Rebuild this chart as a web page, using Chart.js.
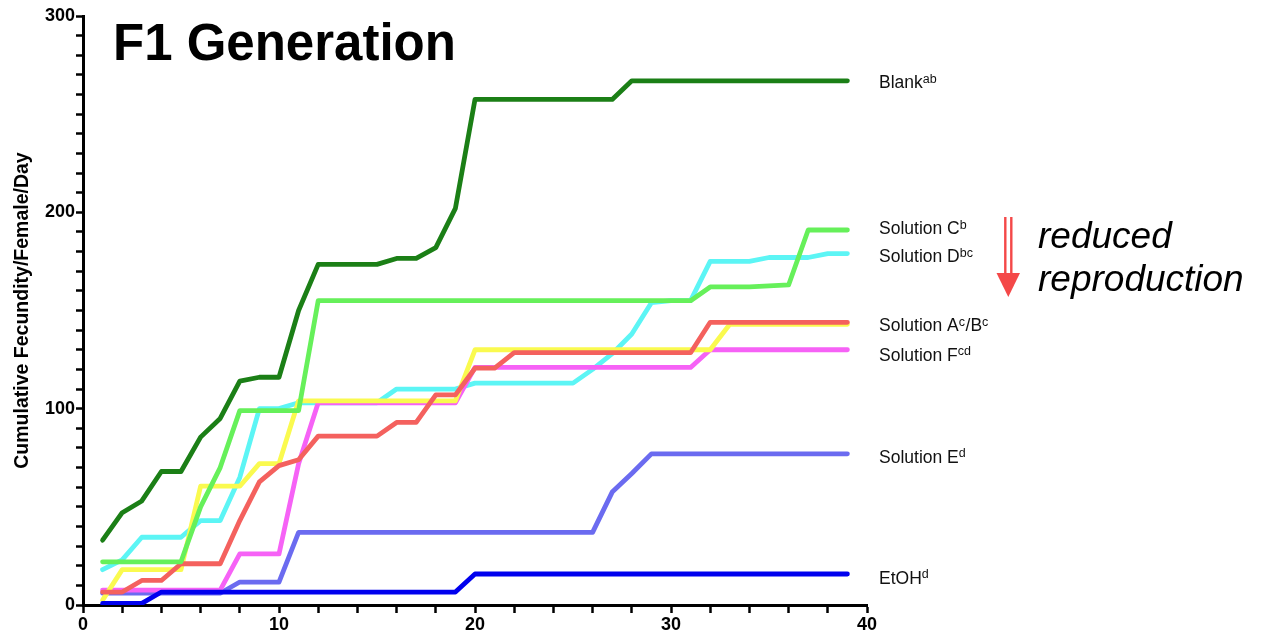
<!DOCTYPE html>
<html>
<head>
<meta charset="utf-8">
<title>F1 Generation</title>
<script src="https://cdn.jsdelivr.net/npm/chart.js@4/dist/chart.umd.min.js"></script>
<style>
  html, body { margin: 0; padding: 0; background: #fff; }
  canvas { display: block; }
</style>
</head>
<body>
<canvas id="chart" width="1264" height="637"></canvas>
<script>
// Day of observation
const days = [1,2,3,4,5,6,7,8,9,10,11,12,13,14,15,16,17,18,19,20,
              21,22,23,24,25,26,27,28,29,30,31,32,33,34,35,36,37,38,39];

// Cumulative fecundity per female per day, one value per day
const blank = [33,47,53,68,68,85.5,95,114,116,116,150,173.5,173.5,173.5,173.5,176.5,176.5,182,202,
               257.5,257.5,257.5,257.5,257.5,257.5,257.5,257.5,267,267,267,267,267,267,267,267,267,267,267,267];
const solutionC = [22,22,22,22,22,50,70,99,99,99,99,155,155,155,155,155,155,155,155,155,
                   155,155,155,155,155,155,155,155,155,155,155,162,162,162,162.5,163,191,191,191];
const solutionD = [18,23,34.5,34.5,34.5,43,43,65,100,100,103,103,103,103,103,110,110,110,110,113,
                   113,113,113,113,113,120,128,138,154,155,155,175,175,175,177,177,177,179,179];
const solutionA = [6.6,6.6,12.5,12.5,21,21,21,43,62.7,71,74,86,86,86,86,93,93,107,107,120.6,
                   120.6,128.5,128.5,128.5,128.5,128.5,128.5,128.5,128.5,128.5,128.5,144,144,144,144,144,144,144,144];
const solutionB = [2.5,18,18,18,18,60.5,60.5,60.5,72,72,104,104,104,104,104,104,104,104,104,130,
                   130,130,130,130,130,130,130,130,130,130,130,130,143,143,143,143,143,143,143];
const solutionF = [7.6,7.6,7.6,7.6,7.6,7.6,7.6,26,26,26,72,103,103,103,103,103,103,103,103,121,
                   121,121,121,121,121,121,121,121,121,121,121,130,130,130,130,130,130,130,130];
const solutionE = [6,6,6,6,6,6,6,11.7,11.7,11.7,37,37,37,37,37,37,37,37,37,37,
                   37,37,37,37,37,37,57.5,67,77,77,77,77,77,77,77,77,77,77,77];
const etoh = [0.8,0.8,0.8,6.6,6.6,6.6,6.6,6.6,6.6,6.6,6.6,6.6,6.6,6.6,6.6,6.6,6.6,6.6,6.6,15.8,
              15.8,15.8,15.8,15.8,15.8,15.8,15.8,15.8,15.8,15.8,15.8,15.8,15.8,15.8,15.8,15.8,15.8,15.8,15.8];

// Axis ticks
const yTickLabels = [0, 100, 200, 300];
const xTickLabels = [0, 10, 20, 30, 40];

const FONT = '"Liberation Sans", Arial, Helvetica, sans-serif';

const pts = arr => days.map((d, i) => ({ x: d, y: arr[i] }));

function series(label, arr, color, order) {
  return {
    label, data: pts(arr), borderColor: color, backgroundColor: color,
    borderWidth: 4.8, pointRadius: 0, pointHoverRadius: 0, tension: 0,
    borderCapStyle: 'round', borderJoinStyle: 'round', fill: false, order
  };
}

// End-of-line labels: text segments [text, superscript?], the series they sit beside, a small vertical nudge
const endLabels = [
  { parts: [['Blank', false], ['ab', true]], series: blank, nudge: 1.5 },
  { parts: [['Solution C', false], ['b', true]], series: solutionC, nudge: -2 },
  { parts: [['Solution D', false], ['bc', true]], series: solutionD, nudge: 2.5 },
  { parts: [['Solution A', false], ['c', true], ['/B', false], ['c', true]], series: solutionA, nudge: 3 },
  { parts: [['Solution F', false], ['cd', true]], series: solutionF, nudge: 5 },
  { parts: [['Solution E', false], ['d', true]], series: solutionE, nudge: 3 },
  { parts: [['EtOH', false], ['d', true]], series: etoh, nudge: 4 }
];

const annotations = {
  id: 'annotations',
  afterDraw(chart) {
    const ctx = chart.ctx;
    const y = chart.scales.y;
    ctx.save();

    // Heading
    ctx.fillStyle = '#000';
    ctx.font = 'bold 51px ' + FONT;
    ctx.textAlign = 'left';
    ctx.textBaseline = 'alphabetic';
    ctx.fillText('F1 Generation', 113, 60);

    // Line-end labels
    const labelX = chart.chartArea.right + 12;
    endLabels.forEach(l => {
      const last = l.series[l.series.length - 1];
      const base = y.getPixelForValue(last) + l.nudge + 6;
      let x = labelX;
      l.parts.forEach(([text, sup]) => {
        ctx.font = (sup ? '12.5px ' : '17.5px ') + FONT;
        ctx.fillStyle = '#111';
        ctx.fillText(text, x, sup ? base - 5.5 : base);
        x += ctx.measureText(text).width + (sup ? 0.5 : 0);
      });
    });

    // Arrow: double shaft and solid head
    ctx.strokeStyle = '#f44848';
    ctx.fillStyle = '#f44848';
    ctx.lineWidth = 2.4;
    ctx.beginPath();
    ctx.moveTo(1005.3, 217); ctx.lineTo(1005.3, 274);
    ctx.moveTo(1011.3, 217); ctx.lineTo(1011.3, 274);
    ctx.stroke();
    ctx.beginPath();
    ctx.moveTo(996.5, 273);
    ctx.lineTo(1020, 273);
    ctx.lineTo(1008.3, 297);
    ctx.closePath();
    ctx.fill();

    ctx.fillStyle = '#000';
    ctx.font = 'italic 37px ' + FONT;
    ctx.fillText('reduced', 1038, 248);
    ctx.fillText('reproduction', 1038, 291);

    ctx.restore();
  }
};

new Chart(document.getElementById('chart'), {
  type: 'line',
  data: {
    datasets: [
      series('EtOH', etoh, '#0000ee', 0),
      series('Blank', blank, '#1b7f16', 1),
      series('Solution C', solutionC, '#66f05a', 2),
      series('Solution A', solutionA, '#f4615e', 3),
      series('Solution B', solutionB, '#fafa4f', 4),
      series('Solution F', solutionF, '#f662f6', 5),
      series('Solution D', solutionD, '#5cf5f5', 6),
      series('Solution E', solutionE, '#6b6bf0', 7)
    ]
  },
  options: {
    responsive: false,
    animation: false,
    events: [],
    layout: { padding: { left: 0, right: 397, top: 16, bottom: 0 } },
    plugins: { legend: { display: false }, tooltip: { enabled: false }, title: { display: false } },
    scales: {
      x: {
        type: 'linear', min: 0, max: 40,
        afterFit: s => { s.height = 32; },
        border: { display: true, color: '#000', width: 3 },
        grid: { drawOnChartArea: false, drawTicks: true, tickLength: 8, tickWidth: 2.5, tickColor: '#000' },
        ticks: {
          stepSize: 2, autoSkip: false, maxRotation: 0, maxTicksLimit: 100, padding: 1,
          color: '#000', font: { family: FONT, size: 18, weight: 'bold' },
          callback: v => xTickLabels.includes(v) ? String(v) : ''
        }
      },
      y: {
        type: 'linear', min: 0, max: 300,
        afterFit: s => { s.width = 83; },
        border: { display: true, color: '#000', width: 3 },
        grid: { drawOnChartArea: false, drawTicks: true, tickLength: 7, tickWidth: 2.5, tickColor: '#000' },
        ticks: {
          stepSize: 10, autoSkip: false, maxTicksLimit: 100, padding: 1,
          color: '#000', font: { family: FONT, size: 18, weight: 'bold' },
          callback: v => yTickLabels.includes(v) ? String(v) : ''
        },
        title: {
          display: true, text: 'Cumulative Fecundity/Female/Day',
          color: '#000', font: { family: FONT, size: 19.5, weight: 'bold' },
          padding: { top: 11, bottom: 0 }
        }
      }
    }
  },
  plugins: [annotations]
});
</script>
</body>
</html>
